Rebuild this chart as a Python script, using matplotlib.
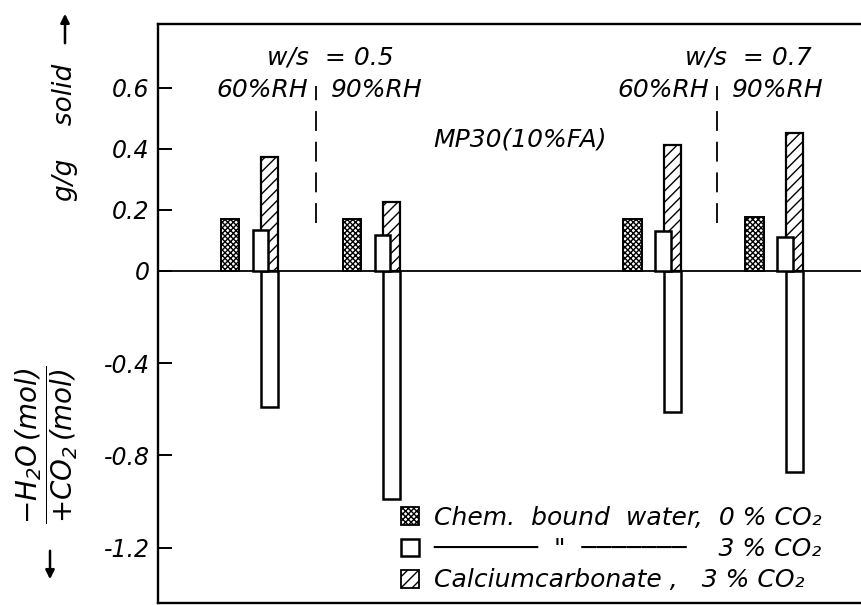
import numpy as np
import matplotlib
matplotlib.use("Agg")
import matplotlib.pyplot as plt
from matplotlib.patches import Patch, FancyArrowPatch

# chart data
groups = ["w/s 0.5, 60% RH", "w/s 0.5, 90% RH", "w/s 0.7, 60% RH", "w/s 0.7, 90% RH"]
bound_water_0co2 = [0.170, 0.170, 0.170, 0.177]   # g/g solid
bound_water_3co2 = [0.134, 0.118, 0.131, 0.111]   # g/g solid
caco3_3co2 = [0.374, 0.226, 0.413, 0.452]         # g/g solid
h2o_co2_ratio = [-0.59, -0.99, -0.61, -0.87]      # -H2O(mol)/+CO2(mol)
pos_ticks = [0, 0.2, 0.4, 0.6]
neg_ticks = [-0.4, -0.8, -1.2]

plt.rcParams["font.family"] = ["DejaVu Sans"]
plt.rcParams["font.style"] = "oblique"
plt.rcParams["mathtext.default"] = "it"
plt.rcParams["hatch.linewidth"] = 1.0

K = 0.757  # lower half (mol ratio) is drawn on a compressed scale


def fwd(y):
    y = np.asarray(y, float)
    return np.where(y >= 0, y, y * K)


def inv(y):
    y = np.asarray(y, float)
    return np.where(y >= 0, y, y / K)


W, H = 861, 605
fig = plt.figure(figsize=(W / 100, H / 100), dpi=100)
ax = fig.add_axes([158 / W, 1 - 603 / H, (862 - 158) / W, (603 - 24) / H])
ax.set_yscale("function", functions=(fwd, inv))

gx = np.array([0, 1, 3.3, 4.3])
ax.bar(gx - 0.16, bound_water_0co2, width=0.15, facecolor="white", edgecolor="black",
       hatch="xxxxxx", lw=1.4, zorder=2)
ax.bar(gx + 0.165, caco3_3co2, width=0.135, facecolor="white", edgecolor="black",
       hatch="///", lw=1.6, zorder=2)
ax.bar(gx + 0.165, h2o_co2_ratio, width=0.135, facecolor="white", edgecolor="black",
       lw=1.8, zorder=2)
ax.bar(gx + 0.09, bound_water_3co2, width=0.13, facecolor="white", edgecolor="black",
       lw=1.8, zorder=3)

ax.axhline(0, color="black", lw=1.3, zorder=1)

# dashed separators between the RH conditions
for xs in [gx[0] + 0.545, gx[2] + 0.53]:
    ax.plot([xs, xs], [0.157, 0.607], color="black", lw=1.3, dashes=(11, 6))

tk = dict(fontsize=18)
ax.text(0.66, 0.70, "w/s  = 0.5", ha="center", va="center", **tk)
ax.text(0.48, 0.593, "60%RH", ha="right", va="center", **tk)
ax.text(0.67, 0.593, "90%RH", ha="left", va="center", **tk)
ax.text(4.09, 0.70, "w/s  = 0.7", ha="center", va="center", **tk)
ax.text(3.77, 0.593, "60%RH", ha="right", va="center", **tk)
ax.text(3.95, 0.593, "90%RH", ha="left", va="center", **tk)
ax.text(2.22, 0.43, "MP30(10%FA)", ha="center", va="center", **tk)

ax.set_xlim(-0.75, 5.02)
ax.set_ylim(-1.44, 0.81)
ax.set_xticks([])
ax.set_yticks(neg_ticks + pos_ticks)
ax.set_yticklabels([f"{t:g}" for t in neg_ticks + pos_ticks])
ax.tick_params(axis="y", direction="in", length=10, width=1.4, labelsize=17, pad=6)
ax.spines["right"].set_visible(False)
for s in ax.spines.values():
    s.set_linewidth(1.7)

# axis labels
fig.text(65 / W, 1 - 132 / H, "g/g    solid", rotation=90, ha="center", va="center",
         fontsize=19)
fig.text(47 / W, 1 - 445 / H, r"$\dfrac{-H_2O\,(mol)}{+CO_2\,(mol)}$", rotation=90,
         ha="center", va="center", fontsize=20)
fig.add_artist(FancyArrowPatch(
    (65 / W, 1 - 46 / H), (65 / W, 1 - 11 / H), transform=fig.transFigure,
    arrowstyle="-|>", mutation_scale=13, lw=1.8, color="black"))
fig.add_artist(FancyArrowPatch(
    (50 / W, 1 - 548 / H), (50 / W, 1 - 582 / H), transform=fig.transFigure,
    arrowstyle="-|>", mutation_scale=13, lw=1.8, color="black"))

# legend
handles = [Patch(facecolor="white", edgecolor="black", hatch="xxxxxx", lw=1.3),
           Patch(facecolor="white", edgecolor="black", lw=1.8),
           Patch(facecolor="white", edgecolor="black", hatch="///", lw=1.3)]
labels = ["Chem.  bound  water,  0 % CO₂",
          "───────  \"  ───────    3 % CO₂",
          "Calciumcarbonate ,   3 % CO₂"]
ax.legend(handles, labels, loc="center left", bbox_to_anchor=(401 / W, 1 - 549 / H),
          bbox_transform=fig.transFigure, frameon=False, fontsize=18,
          handlelength=0.7, handleheight=0.7, handletextpad=0.6, labelspacing=0.3,
          borderpad=0, borderaxespad=0)

fig.savefig("out.png", dpi=100)
